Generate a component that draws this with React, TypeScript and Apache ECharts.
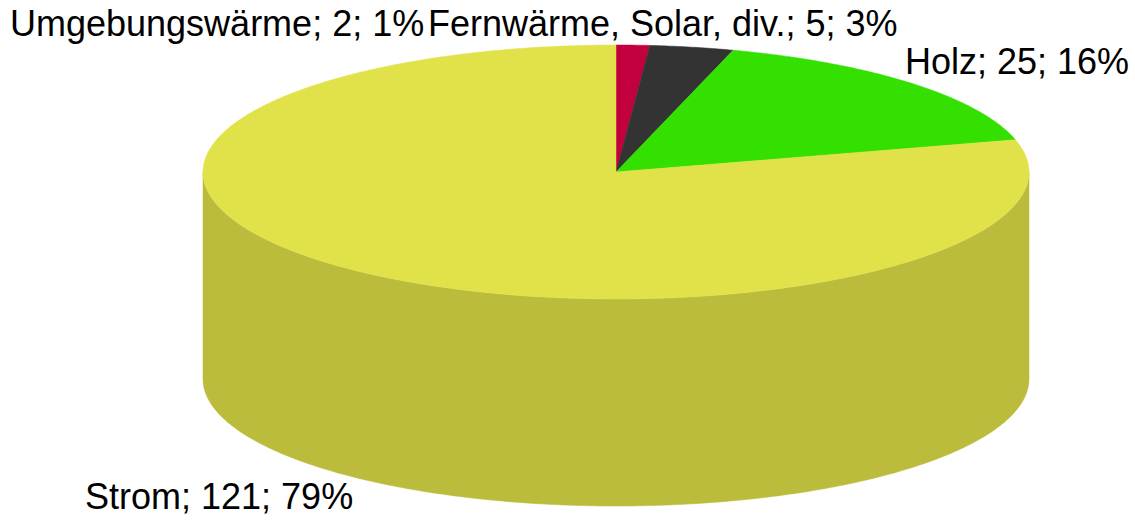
import React, { useEffect, useRef } from "react";
import * as echarts from "echarts";

// ---- data ----
const categories = ["Umgebungswärme", "Fernwärme, Solar, div.", "Holz", "Strom"];
const values = [2, 5, 25, 121];

// ---- styles / layout ----
const topColors = ["#C2003E", "#333333", "#33E000", "#E1E24A"];
const sideColors = ["#8A002C", "#222222", "#24A000", "#BBBB3C"];
const labelAnchors = [
  [10, 23],
  [428, 23],
  [905, 61],
  [85, 496],
];
const CX = 616;
const CY = 172;
const RX = 413;
const RY = 127;
const DEPTH = 207;
const FONT = '36px "Liberation Sans", Arial, sans-serif';

const total = values.reduce((a, b) => a + b, 0);
const starts: number[] = [];
{
  let acc = 0;
  values.forEach((v) => {
    starts.push((acc / total) * 360);
    acc += v;
  });
}

function pt(deg: number, dy = 0): number[] {
  const r = (deg * Math.PI) / 180;
  return [CX + RX * Math.sin(r), CY - RY * Math.cos(r) + dy];
}
function arcPts(a: number, b: number, dy = 0): number[][] {
  const n = Math.max(2, Math.ceil((b - a) / 0.5));
  const out: number[][] = [];
  for (let i = 0; i <= n; i++) out.push(pt(a + ((b - a) * i) / n, dy));
  return out;
}

export default function App() {
  const ref = useRef<HTMLDivElement>(null);
  useEffect(() => {
    if (!ref.current) return;
    const chart = echarts.init(ref.current, undefined, { renderer: "svg" });
    const data = values.map((v) => [v]);
    chart.setOption({
      animation: false,
      backgroundColor: "#ffffff",
      series: [
        {
          type: "custom",
          coordinateSystem: "none",
          z: 1,
          silent: true,
          data,
          renderItem: (params: any, api: any) => {
            const i = params.dataIndex;
            const v = api.value(0) as number;
            const a = starts[i];
            const b = a + (v / total) * 360;
            const lo = Math.max(a, 90);
            const hi = Math.min(b, 270);
            if (lo >= hi) return { type: "group", children: [] };
            const points = [...arcPts(lo, hi), ...arcPts(lo, hi, DEPTH).reverse()];
            return {
              type: "polygon",
              shape: { points },
              style: { fill: sideColors[i], stroke: sideColors[i], lineWidth: 0.5 },
            };
          },
        },
        {
          type: "custom",
          coordinateSystem: "none",
          z: 2,
          silent: true,
          data,
          renderItem: (params: any, api: any) => {
            const i = params.dataIndex;
            const v = api.value(0) as number;
            const a = starts[i];
            const b = a + (v / total) * 360;
            const points = [[CX, CY], ...arcPts(a, b)];
            return {
              type: "polygon",
              shape: { points },
              style: { fill: topColors[i], stroke: topColors[i], lineWidth: 0.5 },
            };
          },
        },
        {
          type: "custom",
          coordinateSystem: "none",
          z: 3,
          silent: true,
          data,
          renderItem: (params: any, api: any) => {
            const i = params.dataIndex;
            const v = api.value(0) as number;
            const pct = Math.round((v / total) * 100);
            return {
              type: "text",
              style: {
                text: `${categories[i]}; ${v}; ${pct}%`,
                x: labelAnchors[i][0],
                y: labelAnchors[i][1],
                font: FONT,
                fill: "#000000",
                align: "left",
                verticalAlign: "middle",
              },
            };
          },
        },
      ],
    });
    return () => chart.dispose();
  }, []);
  return (
    <div
      ref={ref}
      style={{ position: "fixed", left: 0, top: 0, width: 1135, height: 523 }}
    />
  );
}
